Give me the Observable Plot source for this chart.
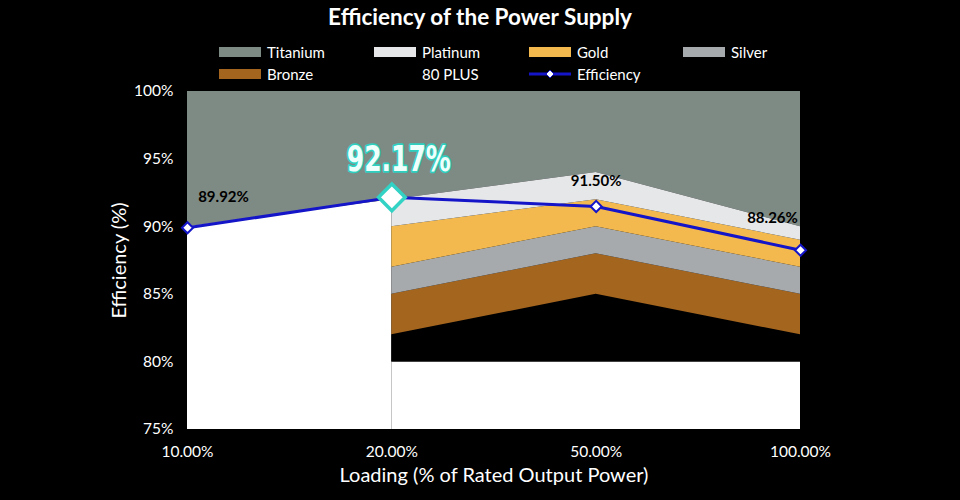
<!DOCTYPE html>
<html>
<head>
<meta charset="utf-8">
<script src="https://cdn.jsdelivr.net/npm/d3@7"></script>
<script src="https://cdn.jsdelivr.net/npm/@observablehq/plot@0.6"></script>
<style>
  html, body { margin:0; padding:0; background:#000; }
  body { width:960px; height:500px; overflow:hidden; font-family: Lato, "Open Sans", sans-serif; color:#fff; }
  #header { position:relative; width:960px; height:80px; }
  #title { position:absolute; left:0; width:960px; top:3px; text-align:center; font-weight:700; font-size:22.5px; }
  .item { position:absolute; font-size:15px; line-height:18px; display:flex; align-items:center; white-space:nowrap; }
  .sw { width:42px; height:10px; margin-right:6px; }
  #chart svg { display:block; }
</style>
</head>
<body>
<div id="header"><div id="title">Efficiency of the Power Supply</div></div>
<div id="chart"></div>
<script>
// ---- data ----
const loads = ["10.00%", "20.00%", "50.00%", "100.00%"];
// 80 PLUS thresholds at 20%, 50%, 100% load (x index 1..3)
const base80 = [80, 80, 80];
const bronze = [82, 85, 82];
const silver = [85, 88, 85];
const gold = [87, 90, 87];
const platinum = [90, 92, 89];
// Titanium has thresholds at 10%, 20%, 50%, 100%
const titanium = [90, 92, 94, 90];
const efficiency = [89.92, 92.17, 91.50, 88.26];
const yTicks = [75, 80, 85, 90, 95, 100];

const seriesNames = ["Titanium", "Platinum", "Gold", "Silver", "Bronze", "80 PLUS", "Efficiency"];
const colors = {
  "Titanium": "#7e8a84",
  "Platinum": "#e6e7e9",
  "Gold": "#f3b94e",
  "Silver": "#a7aaad",
  "Bronze": "#a4651e",
  "80 PLUS": "#000000",
  "Uncertified": "#ffffff",
  "Efficiency": "#1414c8"
};

// ---- band table ----
const bands = [];
titanium.forEach((v, i) => bands.push({band: "Titanium", x: i, y1: v, y2: 100}));
titanium.slice(0, 2).forEach((v, i) => bands.push({band: "UncertA", x: i, y1: 75, y2: v}));
base80.forEach((v, i) => bands.push({band: "UncertB", x: i + 1, y1: 75, y2: v}));
const stack = [["80 PLUS", base80, bronze], ["Bronze", bronze, silver], ["Silver", silver, gold],
               ["Gold", gold, platinum], ["Platinum", platinum, titanium.slice(1)]];
for (const [name, lo, hi] of stack) lo.forEach((v, i) => bands.push({band: name, x: i + 1, y1: v, y2: hi[i]}));
const fillOf = b => b.startsWith("Uncert") ? colors["Uncertified"] : colors[b];

const eff = efficiency.map((v, i) => ({x: i, y: v, label: v.toFixed(2) + "%"}));

// ---- legend ----
const header = document.getElementById("header");
const legendPos = [
  ["Titanium", 219, 43], ["Platinum", 374, 43], ["Gold", 529, 43], ["Silver", 683, 43],
  ["Bronze", 219, 65], ["80 PLUS", 374, 65], ["Efficiency", 529, 65]
];
for (const [name, left, top] of legendPos) {
  const it = document.createElement("div");
  it.className = "item";
  it.style.left = left + "px"; it.style.top = top + "px";
  if (name === "Efficiency") {
    it.innerHTML = `<svg width="42" height="12" style="margin-right:6px"><line x1="0" y1="6" x2="42" y2="6" stroke="${colors.Efficiency}" stroke-width="3"/><path d="M21,2 L25,6 L21,10 L17,6 Z" fill="#fff" stroke="${colors.Efficiency}" stroke-width="1"/></svg>`;
  } else {
    it.innerHTML = `<div class="sw" style="background:${colors[name]}"></div>`;
  }
  it.innerHTML += `<span>${name}</span>`;
  header.appendChild(it);
}

// ---- chart ----
const chart = Plot.plot({
  width: 960,
  height: 420,
  marginTop: 11,
  marginBottom: 71,
  marginLeft: 187,
  marginRight: 160,
  style: {background: "#000", color: "#fff", fontFamily: "Lato, 'Open Sans', sans-serif", fontSize: "15.5px"},
  x: {domain: [0, 3], ticks: [0, 1, 2, 3], tickFormat: i => loads[i], tickSize: 0, tickPadding: 16, label: null},
  y: {domain: [75, 100], ticks: yTicks, tickFormat: d => d + "%", tickSize: 0, tickPadding: 14, label: null},
  marks: [
    Plot.areaY(bands, {x: "x", y1: "y1", y2: "y2", z: "band", fill: d => fillOf(d.band), curve: "linear"}),
    Plot.line(eff, {x: "x", y: "y", stroke: colors.Efficiency, strokeWidth: 3}),
    Plot.dot(eff.filter(d => d.x !== 1), {x: "x", y: "y", symbol: "diamond2", r: 5, fill: "#fff", stroke: colors.Efficiency, strokeWidth: 2}),
    Plot.dot(eff.filter(d => d.x === 1), {x: "x", y: "y", symbol: "diamond2", r: 12, fill: "#fff", stroke: "#32d2c4", strokeWidth: 3.5}),
    Plot.text(eff.filter(d => d.x === 0), {x: "x", y: "y", text: "label", dx: 36, dy: -31, fill: "#000", fontWeight: 700, fontSize: 15}),
    Plot.text(eff.filter(d => d.x === 2), {x: "x", y: "y", text: "label", dx: 0, dy: -25, fill: "#000", fontWeight: 700, fontSize: 15}),
    Plot.text(eff.filter(d => d.x === 3), {x: "x", y: "y", text: "label", dx: -28, dy: -32, fill: "#000", fontWeight: 700, fontSize: 15}),
    Plot.text(eff.filter(d => d.x === 1), {x: "x", y: "y", text: "label", dx: 7, dy: -38, fill: "#effffb", stroke: "#2fcfc0", strokeWidth: 3.5, fontWeight: 700, fontSize: 35, fontFamily: "'DejaVu Sans', sans-serif", className: "big-label"}),
    Plot.text(["Efficiency (%)"], {frameAnchor: "left", textAnchor: "middle", dx: -68, rotate: -90, fill: "#fff", fontSize: 20}),
    Plot.text(["Loading (% of Rated Output Power)"], {frameAnchor: "bottom", dy: 52, fill: "#fff", fontSize: 20})
  ]
});
d3.select(chart).selectAll(".big-label text").attr("textLength", 104).attr("lengthAdjust", "spacingAndGlyphs");
document.getElementById("chart").appendChild(chart);
</script>
</body>
</html>
